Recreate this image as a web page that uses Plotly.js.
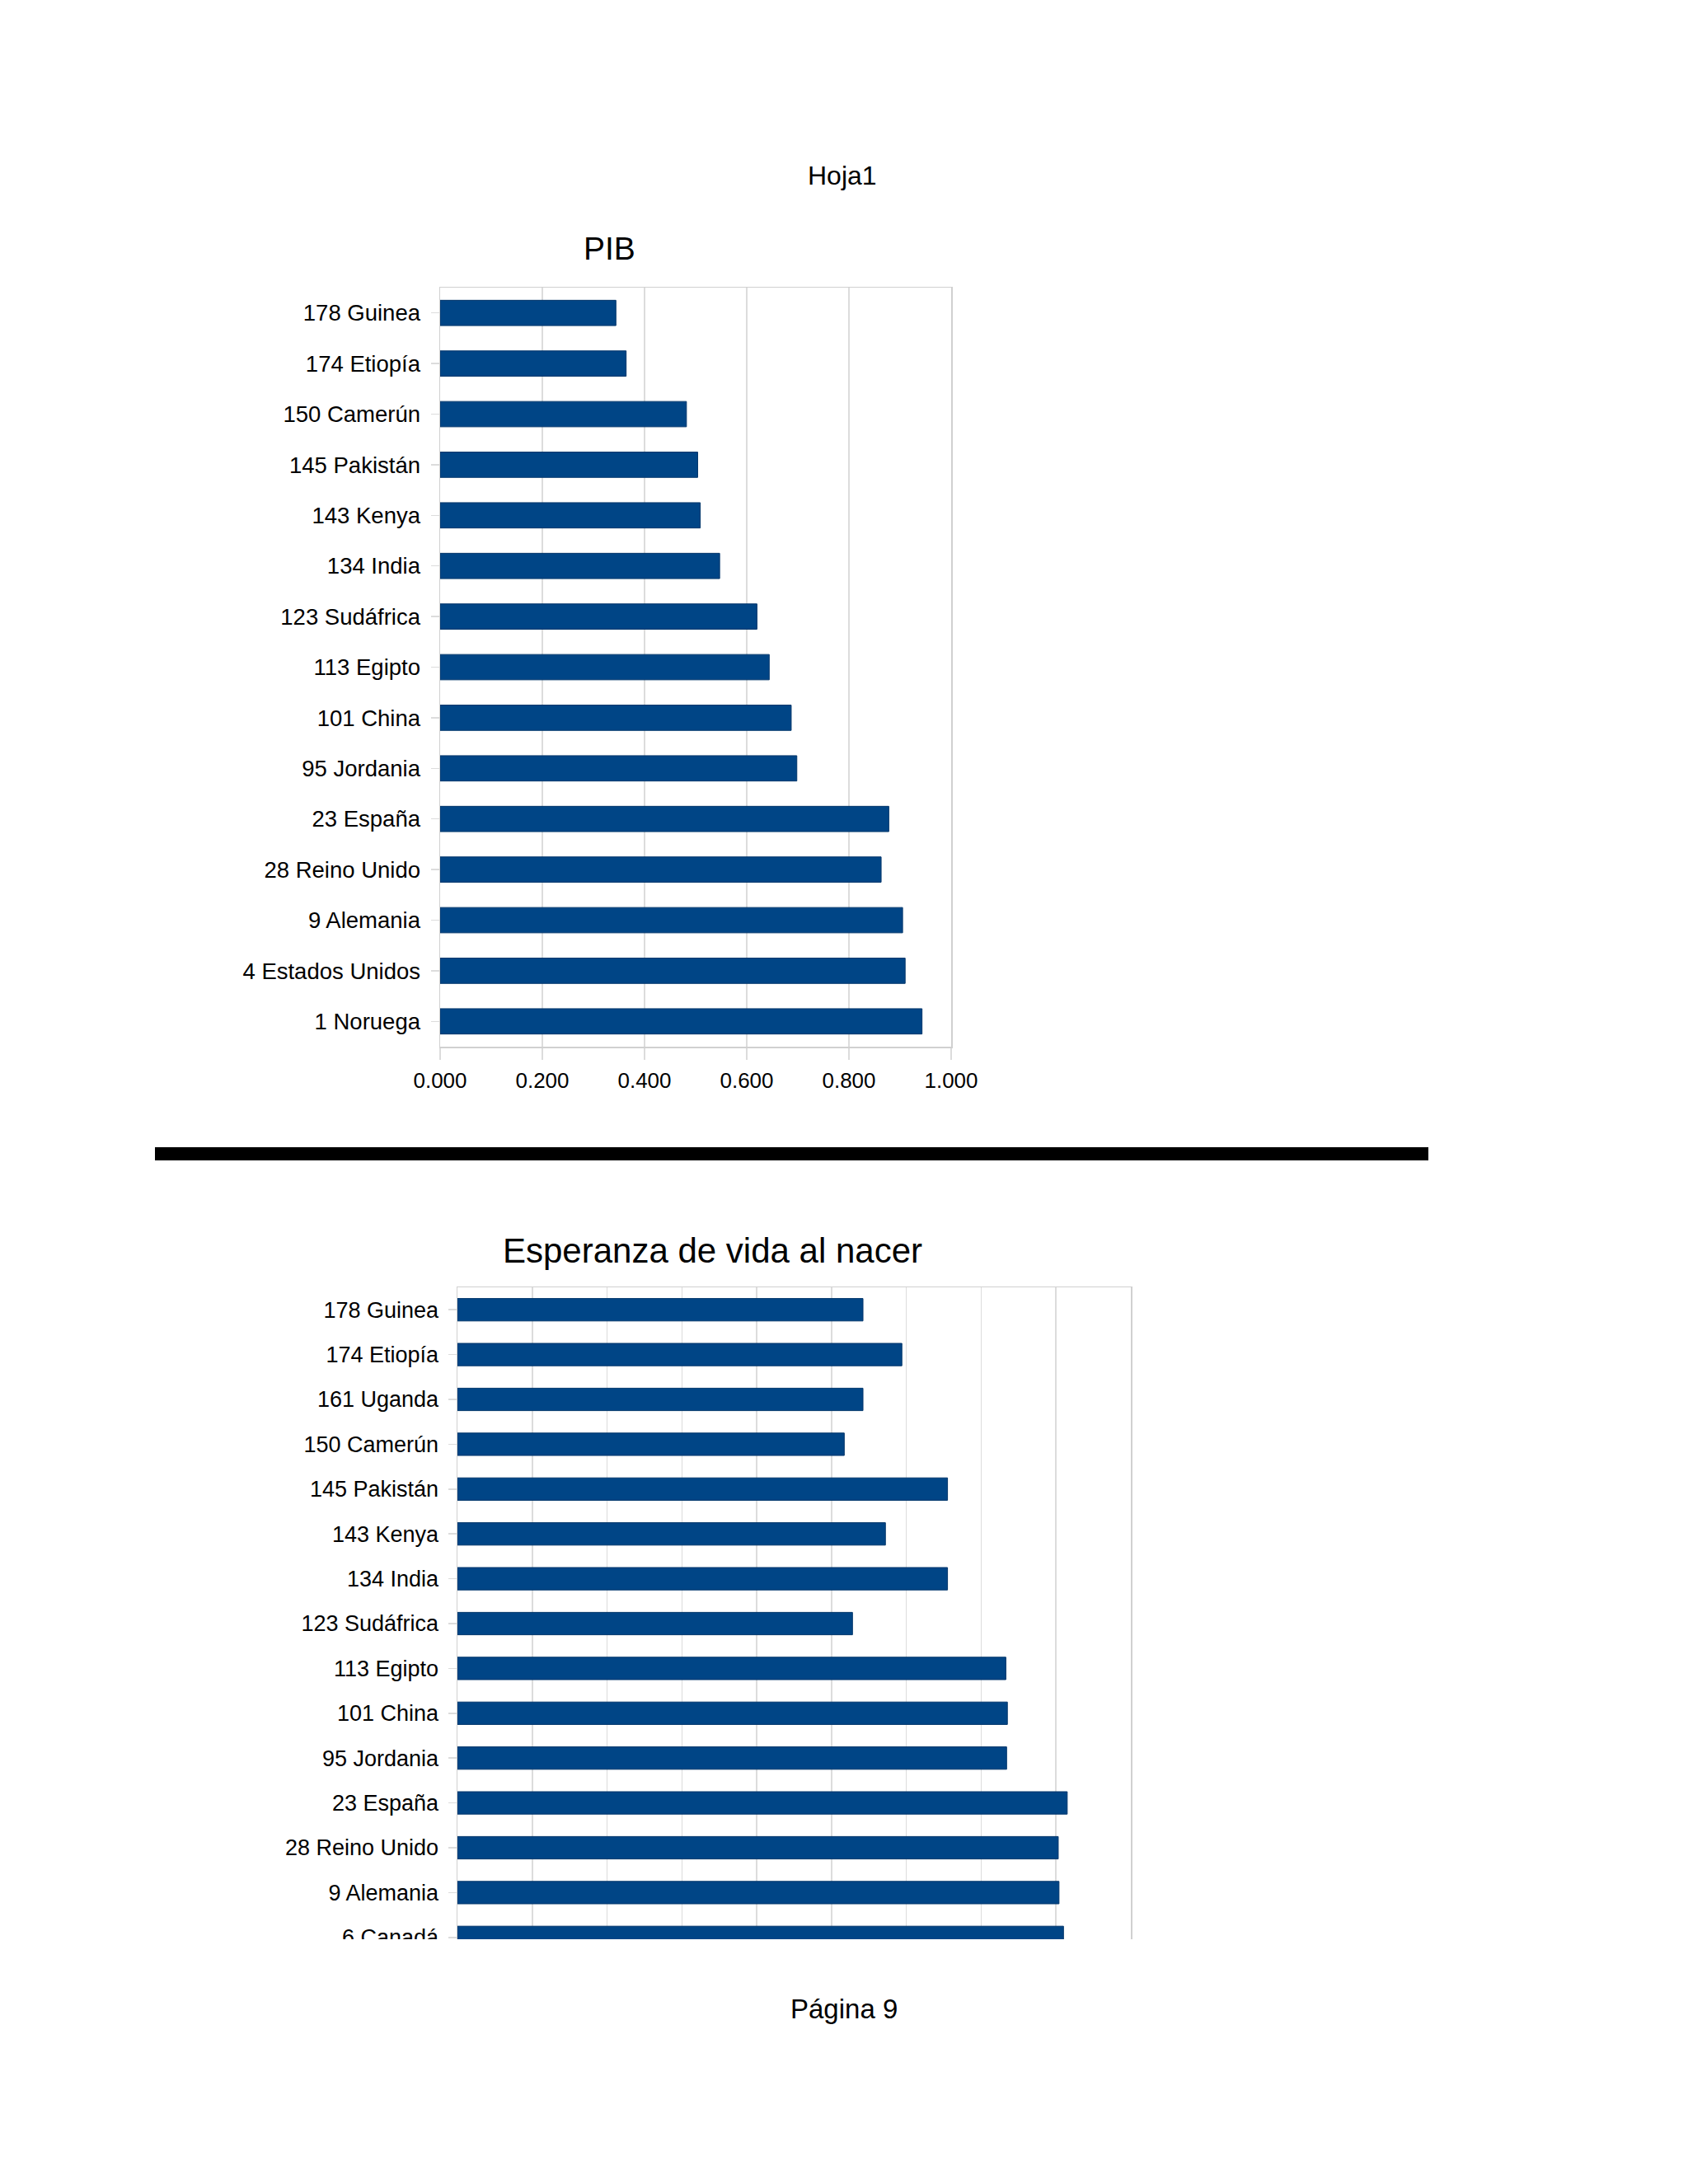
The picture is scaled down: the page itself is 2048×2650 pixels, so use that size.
<!DOCTYPE html>
<html>
<head>
<meta charset="utf-8">
<script src="https://cdn.plot.ly/plotly-3.0.1.min.js"></script>
<style>
  html, body { margin: 0; padding: 0; background: #ffffff; }
  #page { width: 2048px; height: 2650px; }
</style>
</head>
<body>
<div id="page"></div>
<script>
// ---- Data ----
const pibCategories = ["178 Guinea", "174 Etiopía", "150 Camerún", "145 Pakistán", "143 Kenya",
  "134 India", "123 Sudáfrica", "113 Egipto", "101 China", "95 Jordania",
  "23 España", "28 Reino Unido", "9 Alemania", "4 Estados Unidos", "1 Noruega"];
const pibValues = [0.344, 0.364, 0.482, 0.504, 0.509, 0.547, 0.620, 0.644, 0.687, 0.698,
  0.878, 0.863, 0.905, 0.910, 0.943];
const pibTicks = [0, 0.2, 0.4, 0.6, 0.8, 1.0];
const pibTickLabels = ["0.000", "0.200", "0.400", "0.600", "0.800", "1.000"];

const vidaCategories = ["178 Guinea", "174 Etiopía", "161 Uganda", "150 Camerún", "145 Pakistán",
  "143 Kenya", "134 India", "123 Sudáfrica", "113 Egipto", "101 China",
  "95 Jordania", "23 España", "28 Reino Unido", "9 Alemania", "6 Canadá"];
const vidaValues = [54.2, 59.4, 54.2, 51.7, 65.5, 57.2, 65.5, 52.8, 73.3, 73.5,
  73.4, 81.5, 80.3, 80.4, 81.0];

const pageHeader = "Hoja1";
const pageFooter = "Página 9";
const pibTitle = "PIB";
const vidaTitle = "Esperanza de vida al nacer";

// ---- Layout helpers (pixel -> paper) ----
const W = 2048, H = 2650;
const px = v => v / W;
const py = v => 1 - v / H;

const FONT = "Liberation Sans, Arial, Helvetica, sans-serif";
const BAR = "#004586";
const GRID = "#dcdcdc";
const BORDER = "#d0d0d0";

const traces = [
  {
    type: "bar", orientation: "h",
    x: pibValues, y: pibCategories,
    xaxis: "x", yaxis: "y",
    marker: { color: BAR, line: { color: "#00356a", width: 1 } },
    hoverinfo: "none"
  },
  {
    type: "bar", orientation: "h",
    x: vidaValues, y: vidaCategories,
    xaxis: "x2", yaxis: "y2",
    marker: { color: BAR, line: { color: "#00356a", width: 1 } },
    hoverinfo: "none"
  }
];

const layout = {
  width: W, height: H,
  margin: { l: 0, r: 0, t: 0, b: 0, pad: 0 },
  paper_bgcolor: "#ffffff",
  plot_bgcolor: "#ffffff",
  showlegend: false,
  bargap: 0.5,
  font: { family: FONT, color: "#000000", size: 27 },
  xaxis: {
    domain: [px(534), px(1154)],
    anchor: "y",
    range: [0, 1],
    tickvals: pibTicks, ticktext: pibTickLabels,
    showgrid: true, gridcolor: GRID, gridwidth: 1.5,
    zeroline: false,
    showline: true, linecolor: BORDER, linewidth: 1.5, mirror: true,
    ticks: "outside", ticklen: 14, tickcolor: GRID, tickwidth: 1.5,
    ticklabelstandoff: 3,
    tickfont: { family: FONT, size: 26, color: "#000000" },
    fixedrange: true
  },
  yaxis: {
    domain: [py(1270), py(349)],
    anchor: "x",
    type: "category",
    categoryorder: "array", categoryarray: pibCategories,
    autorange: "reversed",
    showgrid: false,
    zeroline: false,
    showline: true, linecolor: BORDER, linewidth: 1.5, mirror: true,
    ticks: "outside", ticklen: 10, tickcolor: GRID, tickwidth: 1.5,
    ticklabelstandoff: 7,
    tickfont: { family: FONT, size: 27.5, color: "#000000" },
    fixedrange: true
  },
  xaxis2: {
    domain: [px(555), px(1372)],
    anchor: "y2",
    range: [0, 90],
    dtick: 10, tick0: 0,
    showgrid: true, gridcolor: GRID, gridwidth: 1.5,
    zeroline: false,
    showline: true, linecolor: BORDER, linewidth: 1.5, mirror: true,
    ticks: "", showticklabels: false,
    fixedrange: true
  },
  yaxis2: {
    domain: [py(2378), py(1562)],
    anchor: "x2",
    type: "category",
    categoryorder: "array", categoryarray: vidaCategories,
    autorange: "reversed",
    showgrid: false,
    zeroline: false,
    showline: true, linecolor: BORDER, linewidth: 1.5, mirror: true,
    ticks: "outside", ticklen: 10, tickcolor: GRID, tickwidth: 1.5,
    ticklabelstandoff: 6,
    tickfont: { family: FONT, size: 27, color: "#000000" },
    fixedrange: true
  },
  shapes: [
    // thick black separator
    { type: "rect", xref: "paper", yref: "paper",
      x0: px(188), x1: px(1733), y0: py(1408), y1: py(1392),
      fillcolor: "#000000", line: { width: 0 }, layer: "above" },
    // page cut of the second chart
    { type: "rect", xref: "paper", yref: "paper",
      x0: 0, x1: px(1500), y0: py(2410), y1: py(2353),
      fillcolor: "#ffffff", line: { width: 0 }, layer: "above" }
  ],
  annotations: [
    { text: pageHeader, xref: "paper", yref: "paper", x: px(1022), y: py(213),
      xanchor: "center", yanchor: "middle", showarrow: false,
      font: { family: FONT, size: 32, color: "#000000" } },
    { text: pibTitle, xref: "paper", yref: "paper", x: px(739), y: py(302),
      xanchor: "center", yanchor: "middle", showarrow: false,
      font: { family: FONT, size: 39, color: "#000000" } },
    { text: vidaTitle, xref: "paper", yref: "paper", x: px(864), y: py(1517),
      xanchor: "center", yanchor: "middle", showarrow: false,
      font: { family: FONT, size: 42, color: "#000000" } },
    { text: pageFooter, xref: "paper", yref: "paper", x: px(1024), y: py(2437),
      xanchor: "center", yanchor: "middle", showarrow: false,
      font: { family: FONT, size: 33, color: "#000000" } }
  ]
};

Plotly.newPlot("page", traces, layout, { staticPlot: true, displayModeBar: false });
</script>
</body>
</html>
